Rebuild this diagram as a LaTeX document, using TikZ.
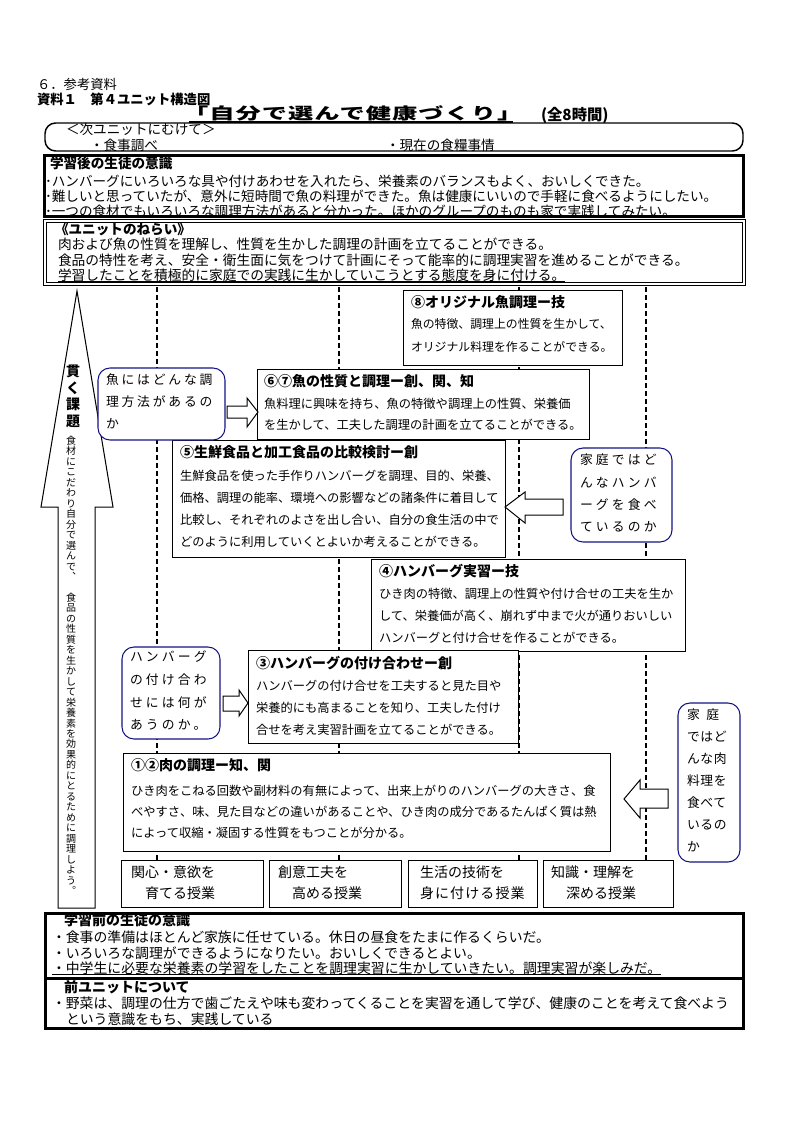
\documentclass[tikz,border=0pt]{standalone}
\usepackage{fontspec}
\usepackage{graphicx}
\setmainfont{Noto Sans CJK JP}
\usetikzlibrary{fit,calc}
\definecolor{navy}{RGB}{20,20,130}
\tikzset{
  every node/.style={inner sep=0pt, outer sep=0pt},
  box/.style={draw, fill=white, line width=0.75pt, inner sep=0pt},
  thickbox/.style={draw, fill=white, line width=2.25pt, inner sep=0pt},
  callout/.style={draw=navy, fill=white, line width=0.8pt, rounded corners=9pt, inner sep=0pt},
  dashline/.style={line width=1.6pt, dash pattern=on 3.5pt off 2.5pt},
  harrow/.style={draw, fill=white, line width=0.75pt, line join=miter},
  ttl/.style={anchor=west, font=\fontsize{10.5}{12}\selectfont\bfseries},
  bodytxt/.style={anchor=west, font=\fontsize{9.2}{11}\selectfont},
  smallbody/.style={anchor=west, font=\fontsize{8.9}{11}\selectfont},
  big/.style={anchor=west, font=\fontsize{10.2}{12}\selectfont},
  bighead/.style={anchor=west, font=\fontsize{10.2}{12}\selectfont\bfseries},
  aimtxt/.style={anchor=west, font=\fontsize{10.3}{12}\selectfont},
  pretxt/.style={anchor=west, font=\fontsize{10.4}{12}\selectfont},
  prehead/.style={anchor=west, font=\fontsize{10.5}{12}\selectfont\bfseries},
  lesson/.style={anchor=west, font=\fontsize{10.5}{12}\selectfont},
  qtxt/.style={anchor=west, font=\fontsize{9.6}{11}\selectfont\addfontfeature{LetterSpace=22}},
  qtxtw/.style={anchor=west, font=\fontsize{9.6}{11}\selectfont\addfontfeature{LetterSpace=25}},
  qtxtn/.style={anchor=west, font=\fontsize{9.6}{11}\selectfont\addfontfeature{LetterSpace=5}},
}
\begin{document}
\begin{tikzpicture}[x=0.75pt, y=-0.75pt]
\useasboundingbox (0,0) rectangle (794,1123);

% ---------- header ----------
\node[anchor=west, font=\fontsize{10}{12}\selectfont] (h1) at (37,84) {６．参考資料};
\node[anchor=west, font=\fontsize{10}{12}\selectfont\bfseries] (h2) at (37,99) {資料１　第４ユニット構造図};
\node[anchor=west, font=\fontsize{12}{14}\selectfont\bfseries\addfontfeature{LetterSpace=4}] (title) at (183,113) {\scalebox{1.58}[1]{「自分で選んで健康づくり」}};
\draw[line width=1.5pt] ($(title.west |- 0,122)+(6,0)$) -- ($(title.east |- 0,122)+(-10,0)$);
\node[anchor=west, font=\fontsize{11.5}{13}\selectfont\bfseries] (hours) at (541,115) {(全8時間)};

% ---------- next unit ----------
\node[draw, line width=1.1pt, rounded corners=8pt, fit={(45,123) (743,151)}, inner sep=0pt] (next) {};
\node[big] (n1) at (66,129) {＜次ユニットにむけて＞};
\node[big] (n2) at (90,145) {・食事調べ};
\node[big] (n3) at (386,145) {・現在の食糧事情};

% ---------- after learning ----------
\node[thickbox, fit={(44,156) (743,217)}] (after) {};
\node[bighead] (a0) at (50,163) {学習後の生徒の意識};
\node[big] (a1) at (45,181) {･ハンバーグにいろいろな具や付けあわせを入れたら、栄養素のバランスもよく、おいしくできた。};
\node[big] (a2) at (45,196) {･難しいと思っていたが、意外に短時間で魚の料理ができた。魚は健康にいいので手軽に食べるようにしたい。};
\node[big] (a3) at (45,211) {･一つの食材でもいろいろな調理方法があると分かった。ほかのグループのものも家で実践してみたい。};

% ---------- aims ----------
\node[draw, double, double distance=1.5pt, line width=0.75pt, fill=white, fit={(44.5,221.5) (743.5,283.5)}, inner sep=0pt] (aim) {};
\node[bighead] (m0) at (55,229) {《ユニットのねらい》};
\node[aimtxt] (m1) at (58,244) {肉および魚の性質を理解し、性質を生かした調理の計画を立てることができる。};
\node[aimtxt] (m2) at (58,260) {食品の特性を考え、安全・衛生面に気をつけて計画にそって能率的に調理実習を進めることができる。};
\node[aimtxt] (m3) at (58,275) {学習したことを積極的に家庭での実践に生かしていこうとする態度を身に付ける。};
\draw[line width=0.75pt] (m3.west |- 0,281) -- (m3.east |- 0,281);

% ---------- dashed guide lines ----------
\foreach \xx in {157,339,519,646} \draw[dashline] (\xx,287) -- (\xx,860);

% ---------- big up arrow ----------
\draw[harrow] (77,291) -- (113,507) -- (95,507) -- (95,908) -- (58,908) -- (58,507) -- (41,507) -- cycle;
\node[anchor=north, align=center, font=\fontsize{10.5}{12.5}\selectfont\bfseries] (kadai) at (73,365) {貫\\く\\課\\題};
\node[anchor=north, align=center, font=\fontsize{7.5}{7.85}\selectfont] (goal) at (71,436)
 {食\\材\\に\\こ\\だ\\わ\\り\\自\\分\\で\\選\\ん\\で\\︑\\[7.85pt]食\\品\\の\\性\\質\\を\\生\\か\\し\\て\\栄\\養\\素\\を\\効\\果\\的\\に\\と\\る\\た\\め\\に\\調\\理\\し\\よ\\う\\︒};

% ---------- lesson boxes ----------
\node[box, fit={(403,290) (622,365)}] (b8) {};
\node[ttl] (b8t) at (411,302) {⑧オリジナル魚調理ー技};
\foreach \yy/\txt [count=\i] in {324/魚の特徴、調理上の性質を生かして、, 347/オリジナル料理を作ることができる。}
  \node[smallbody] (b8l\i) at (411,\yy) {\txt};

\node[box, fit={(257,369) (589,439)}] (b67) {};
\node[ttl] (b67t) at (264,381) {⑥⑦魚の性質と調理ー創、関、知};
\foreach \yy/\txt [count=\i] in {404/魚料理に興味を持ち、魚の特徴や調理上の性質、栄養価, 425/を生かして、工夫した調理の計画を立てることができる。}
  \node[bodytxt] (b67l\i) at (264,\yy) {\txt};

\node[box, fit={(172,440) (505,557)}] (b5) {};
\node[ttl] (b5t) at (180,452) {⑤生鮮食品と加工食品の比較検討ー創};
\foreach \yy/\txt [count=\i] in {476/生鮮食品を使った手作りハンバーグを調理、目的、栄養、, 498/価格、調理の能率、環境への影響などの諸条件に着目して, 520/比較し、それぞれのよさを出し合い、自分の食生活の中で, 542/どのように利用していくとよいか考えることができる。}
  \node[bodytxt] (b5l\i) at (180,\yy) {\txt};

\node[box, fit={(371,559) (685,651)}] (b4) {};
\node[ttl] (b4t) at (379,571) {④ハンバーグ実習ー技};
\foreach \yy/\txt [count=\i] in {594/ひき肉の特徴、調理上の性質や付け合せの工夫を生か, 616/して、栄養価が高く、崩れず中まで火が通りおいしい, 638/ハンバーグと付け合せを作ることができる。}
  \node[bodytxt] (b4l\i) at (379,\yy) {\txt};

\node[box, fit={(248,650) (518,743)}] (b3) {};
\node[ttl] (b3t) at (256,663) {③ハンバーグの付け合わせー創};
\foreach \yy/\txt [count=\i] in {686/ハンバーグの付け合せを工夫すると見た目や, 708/栄養的にも高まることを知り、工夫した付け, 730/合せを考え実習計画を立てることができる。}
  \node[bodytxt] (b3l\i) at (256,\yy) {\txt};

\node[box, fit={(123,753) (610,851)}] (b12) {};
\node[ttl] (b12t) at (131,765) {①②肉の調理ー知、関};
\foreach \yy/\txt [count=\i] in {791/ひき肉をこねる回数や副材料の有無によって、出来上がりのハンバーグの大きさ、食, 812/べやすさ、味、見た目などの違いがあることや、ひき肉の成分であるたんぱく質は熱, 833/によって収縮・凝固する性質をもつことが分かる。}
  \node[bodytxt] (b12l\i) at (131,\yy) {\txt};

% ---------- question callouts ----------
\node[callout, fit={(98,368) (225,440)}] (q1) {};
\foreach \yy/\txt [count=\i] in {380/魚にはどんな調, 402/理方法があるの, 424/か}
  \node[qtxt] (q1l\i) at (106,\yy) {\txt};

\node[callout, fit={(571,448) (672,542)}] (q2) {};
\foreach \yy/\txt [count=\i] in {460/家庭ではど, 483/んなハンバ, 505/ーグを食べ, 527/ているのか}
  \node[qtxtw] (q2l\i) at (580,\yy) {\txt};

\node[callout, fit={(122,647) (220,739)}] (q3) {};
\foreach \yy/\txt [count=\i] in {657/ハンバーグ, 680/の付け合わ, 703/せには何が, 725/あうのか。}
  \node[qtxtw] (q3l\i) at (130,\yy) {\txt};

\node[callout, fit={(678,703) (740,862)}] (q4) {};
\node[qtxtn] (q4l0) at (687,715) {家\hspace{5pt}庭};
\foreach \yy/\txt [count=\i] in {737/ではど, 759/んな肉, 781/料理を, 803/食べて, 825/いるの, 847/か}
  \node[qtxtn] (q4l\i) at (687,\yy) {\txt};

% ---------- hollow block arrows ----------
\draw[harrow] (227,406) -- (247,406) -- (247,398) -- (258,412) -- (247,427) -- (247,418) -- (227,418) -- cycle;
\draw[harrow] (563,499) -- (525,499) -- (525,492) -- (505,507) -- (525,523) -- (525,515) -- (563,515) -- cycle;
\draw[harrow] (223,696) -- (239,696) -- (239,690) -- (248,703) -- (239,716) -- (239,711) -- (223,711) -- cycle;
\draw[harrow] (668,789) -- (640,789) -- (640,780) -- (624,799) -- (640,818) -- (640,808) -- (668,808) -- cycle;

% ---------- lesson type boxes ----------
\node[box, fit={(121,860) (263,907)}] (k1) {};
\node[lesson] (k1a) at (131,872) {関心・意欲を};
\node[lesson] (k1b) at (145,893) {育てる授業};
\node[box, fit={(269,860) (401,907)}] (k2) {};
\node[lesson] (k2a) at (278,872) {創意工夫を};
\node[lesson] (k2b) at (292,893) {高める授業};
\node[box, fit={(408,860) (537,907)}] (k3) {};
\node[lesson] (k3a) at (420,872) {生活の技術を};
\node[lesson, font=\fontsize{10.5}{12}\selectfont\addfontfeature{LetterSpace=8}] (k3b) at (420,893) {身に付ける授業};
\node[box, fit={(543,860) (673,907)}] (k4) {};
\node[lesson] (k4a) at (551,872) {知識・理解を};
\node[lesson] (k4b) at (566,893) {深める授業};

% ---------- before learning ----------
\node[thickbox, fit={(45,913) (743,978)}] (before) {};
\node[prehead] (p0) at (64,920) {学習前の生徒の意識};
\node[pretxt] (p1) at (52,937) {・食事の準備はほとんど家族に任せている。休日の昼食をたまに作るくらいだ。};
\node[pretxt] (p2) at (52,953) {・いろいろな調理ができるようになりたい。おいしくできるとよい。};
\node[pretxt] (p3) at (52,968) {・中学生に必要な栄養素の学習をしたことを調理実習に生かしていきたい。調理実習が楽しみだ。};
\draw[line width=0.75pt] (p3.west |- 0,974) -- (p3.east |- 0,974);

\node[thickbox, fit={(45,978) (743,1028)}] (prev) {};
\node[prehead] (r0) at (64,987) {前ユニットについて};
\node[pretxt] (r1) at (52,1003) {・野菜は、調理の仕方で歯ごたえや味も変わってくることを実習を通して学び、健康のことを考えて食べよう};
\node[pretxt] (r2) at (66,1019) {という意識をもち、実践している};
\end{tikzpicture}
\end{document}
